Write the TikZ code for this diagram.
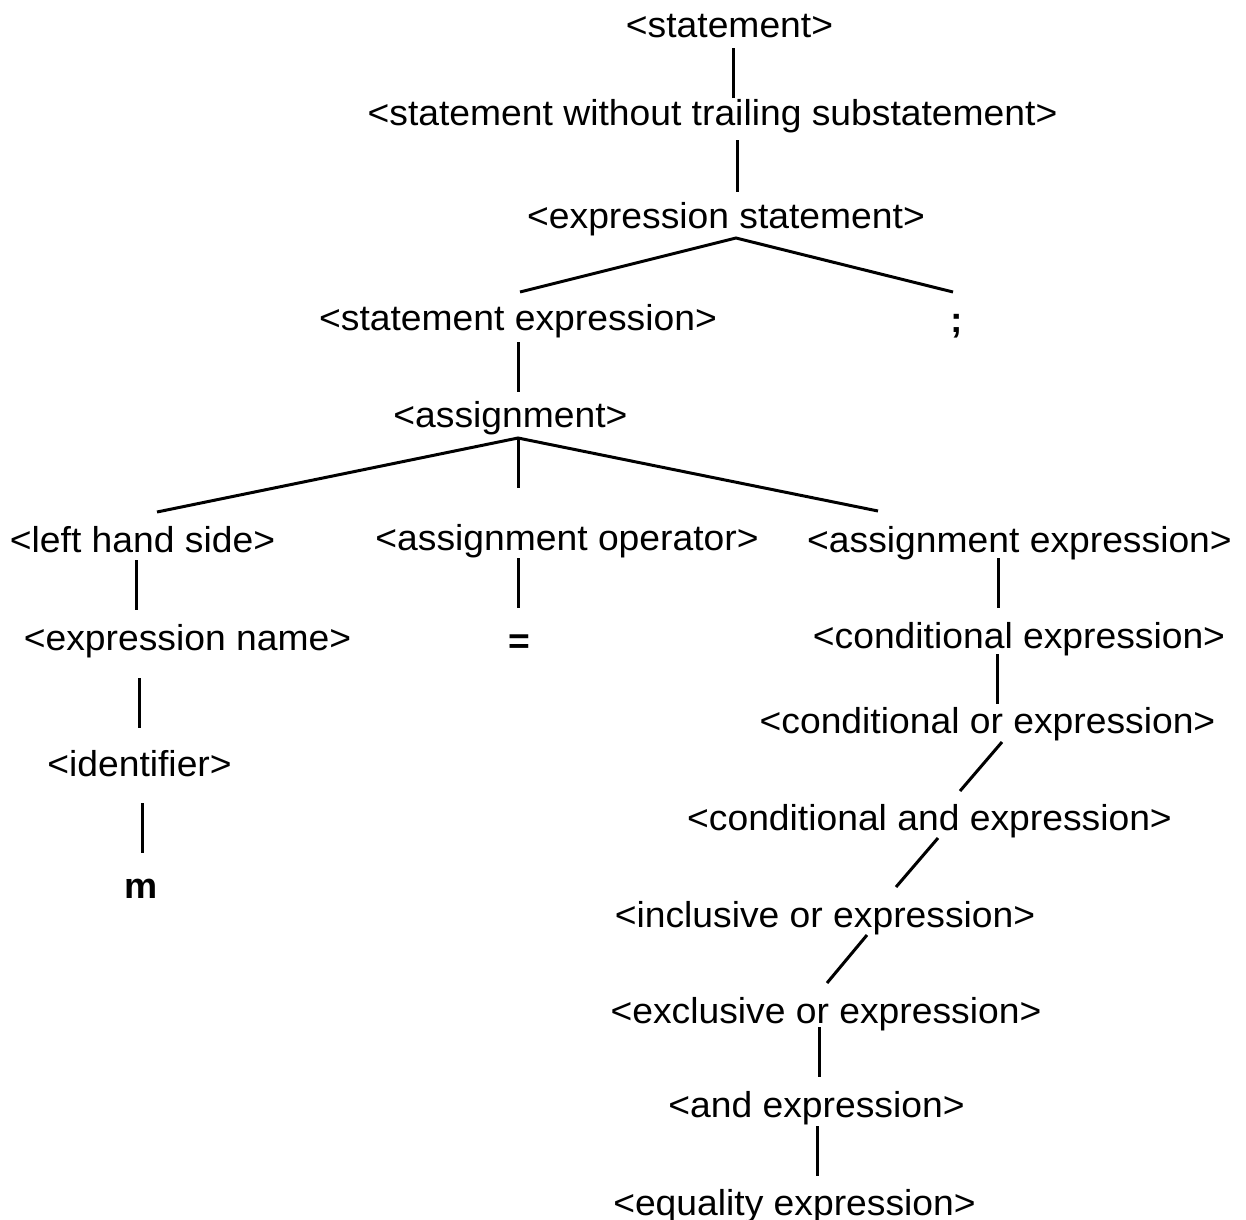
\documentclass[tikz,border=0pt]{standalone}
\usepackage{fontspec}
\setmainfont[FakeStretch=1.035]{Liberation Sans}
\usetikzlibrary{calc}
\tikzset{
  lbl/.style={anchor=base, inner sep=0pt, outer sep=0pt, font=\fontsize{36}{40}\selectfont},
  term/.style={lbl, font=\fontsize{36}{40}\selectfont\bfseries},
  edge/.style={line width=3pt, line cap=butt}
}
\begin{document}
\begin{tikzpicture}[x=1pt, y=-1pt]
\useasboundingbox (0,0) rectangle (1246,1219);
% nodes
\node[lbl] (stmt) at (729.5,37) {<statement>};
\node[lbl] (swts) at (712.5,125) {<statement without trailing substatement>};
\node[lbl] (exprstmt) at (726,228) {<expression statement>};
\node[lbl] (stmtexpr) at (518,330) {<statement expression>};
\node[term] (semi) at (957,332) {;};
\node[lbl] (assign) at (510.5,427) {<assignment>};
\node[lbl] (lhs) at (142.5,552) {<left hand side>};
\node[lbl] (assignop) at (567,550) {<assignment operator>};
\node[lbl] (assignexpr) at (1019.5,552) {<assignment expression>};
\node[lbl] (exprname) at (187.5,650) {<expression name>};
\node[term] (eq) at (519.5,653) {=};
\node[lbl] (condexpr) at (1019,648) {<conditional expression>};
\node[lbl] (ident) at (139.5,776) {<identifier>};
\node[term] (m) at (141,898) {m};
\node[lbl] (condor) at (987.5,733) {<conditional or expression>};
\node[lbl] (condand) at (929.5,830) {<conditional and expression>};
\node[lbl] (inclor) at (825,927) {<inclusive or expression>};
\node[lbl] (exclor) at (826,1023) {<exclusive or expression>};
\node[lbl] (andexpr) at (816.5,1117) {<and expression>};
\node[lbl] (equality) at (794.5,1215) {<equality expression>};
% connectors
\draw[edge] ($(stmt.base)+(3.5,11)$) -- ($(swts.base)+(20.5,-27)$);
\draw[edge] ($(swts.base)+(24.5,15)$) -- ($(exprstmt.base)+(11,-36)$);
\draw[edge] ($(stmtexpr.base)+(2,-38)$) -- ($(exprstmt.base)+(10,10)$) -- ($(semi.base)+(-4,-40)$);
\draw[edge] ($(stmtexpr.base)+(0,12)$) -- ($(assign.base)+(7.5,-35)$);
\draw[edge] ($(lhs.base)+(14.5,-40)$) -- ($(assign.base)+(7.5,11)$) -- ($(assignexpr.base)+(-141.5,-41)$);
\draw[edge] ($(assign.base)+(7.5,11)$) -- ($(assignop.base)+(-49,-62)$);
\draw[edge] ($(lhs.base)+(-6.5,8)$) -- ($(exprname.base)+(-51.5,-40)$);
\draw[edge] ($(assignop.base)+(-49,8)$) -- ($(eq.base)+(-1.5,-45)$);
\draw[edge] ($(assignexpr.base)+(-21.5,6)$) -- ($(condexpr.base)+(-21,-40)$);
\draw[edge] ($(exprname.base)+(-48.5,28)$) -- ($(ident.base)+(-0.5,-48)$);
\draw[edge] ($(condexpr.base)+(-22,6)$) -- ($(condor.base)+(9.5,-29)$);
\draw[edge] ($(ident.base)+(2.5,27)$) -- ($(m.base)+(1,-45)$);
\draw[edge] ($(condor.base)+(14.5,9)$) -- ($(condand.base)+(30.5,-39)$);
\draw[edge] ($(condand.base)+(8.5,8)$) -- ($(inclor.base)+(71,-40)$);
\draw[edge] ($(inclor.base)+(42,8)$) -- ($(exclor.base)+(1,-40)$);
\draw[edge] ($(exclor.base)+(-7,4)$) -- ($(andexpr.base)+(2.5,-40)$);
\draw[edge] ($(andexpr.base)+(0.5,9)$) -- ($(equality.base)+(22.5,-39)$);
\end{tikzpicture}
\end{document}
